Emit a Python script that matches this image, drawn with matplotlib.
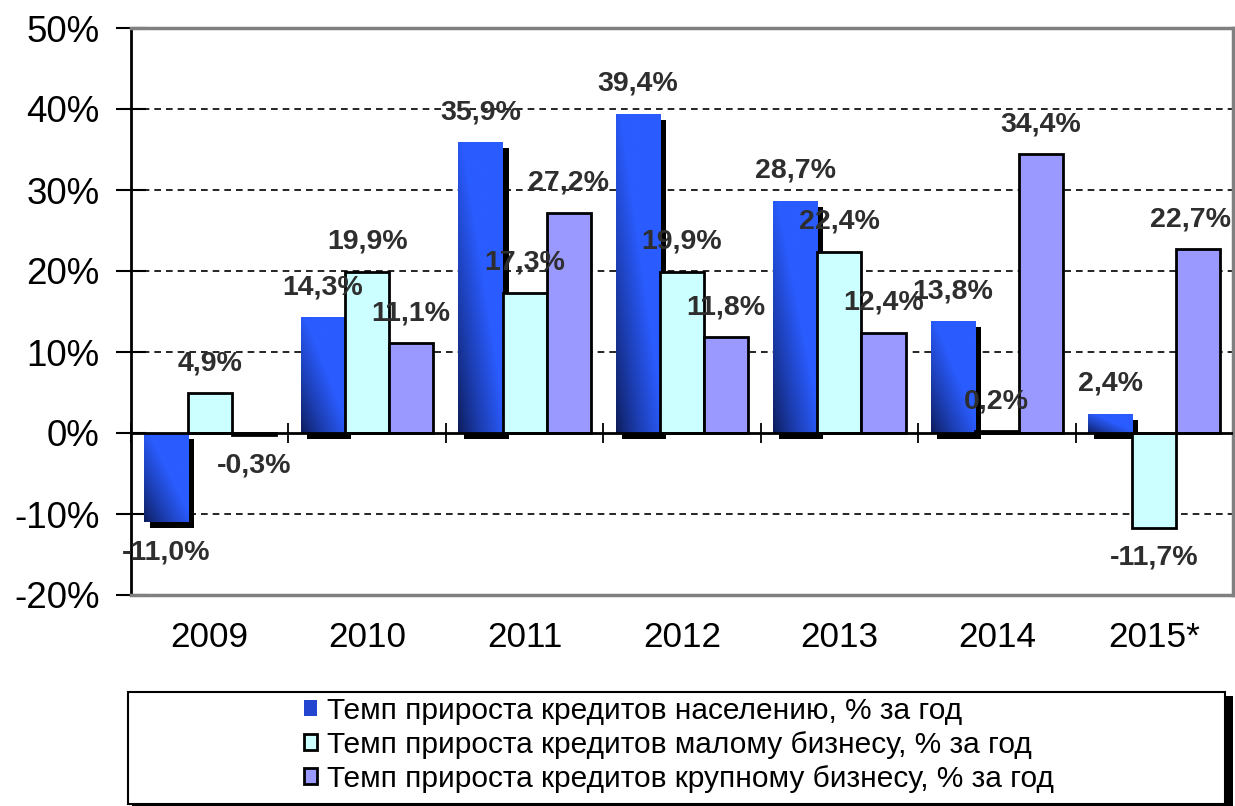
import numpy as np
import matplotlib
matplotlib.use("Agg")
import matplotlib.pyplot as plt
from matplotlib.patches import Rectangle
from matplotlib.colors import to_rgb

plt.rcParams['font.family'] = ['Liberation Sans', 'DejaVu Sans']

categories = ['2009', '2010', '2011', '2012', '2013', '2014', '2015*']
households = [-11.0, 14.3, 35.9, 39.4, 28.7, 13.8, 2.4]
small_business = [4.9, 19.9, 17.3, 19.9, 22.4, 0.2, -11.7]
large_business = [-0.3, 11.1, 27.2, 11.8, 12.4, 34.4, 22.7]
series_names = ['Темп прироста кредитов населению, % за год',
                'Темп прироста кредитов малому бизнесу, % за год',
                'Темп прироста кредитов крупному бизнесу, % за год']
yticks = [-20, -10, 0, 10, 20, 30, 40, 50]

W, H = 1235, 806
fig = plt.figure(figsize=(W / 100, H / 100), dpi=100)
ax = fig.add_axes([131 / W, 1 - 595 / H, (1233 - 131) / W, (595 - 28) / H])
ax.set_xlim(-0.5, len(categories) - 0.5)
ax.set_ylim(-20, 50)

x = np.arange(len(categories))
bw = 0.28
dark = np.array(to_rgb('#0c1a55'))
bright = np.array(to_rgb('#2a5cff'))

px_x = (len(categories)) / (1233 - 131)
px_y = 70 / (595 - 28)
sdx, sdy = 6 * px_x, 6 * px_y

n = 64
u, v = np.meshgrid(np.linspace(0, 1, n), np.linspace(0, 1, n))
t = np.clip((u * 0.9 + v * 0.9) ** 0.8, 0, 1)
grad = dark[None, None, :] + t[..., None] * (bright - dark)[None, None, :]

bars_h = ax.bar(x - bw, households, bw, color='none', edgecolor='none', zorder=3)
for b, val in zip(bars_h, households):
    x0 = b.get_x()
    y0 = min(0, val)
    h = abs(val)
    sh = Rectangle((x0 + sdx, y0 - sdy), bw, h, facecolor='black', edgecolor='none', zorder=2)
    ax.add_patch(sh)
    clip = Rectangle((x0, y0), bw, h, transform=ax.transData, facecolor='none', edgecolor='none')
    ax.add_patch(clip)
    im = ax.imshow(grad, extent=(x0, x0 + bw, y0, y0 + h), origin='lower', aspect='auto', zorder=3,
                   interpolation='bilinear')
    im.set_clip_path(clip)

bars_s = ax.bar(x, small_business, bw, color='#ccffff', edgecolor='black', linewidth=2, zorder=4)
bars_l = ax.bar(x + bw, large_business, bw, color='#9999ff', edgecolor='black', linewidth=2, zorder=4)
ax.set_xlim(-0.5, len(categories) - 0.5)
ax.set_ylim(-20, 50)

def fmt(vv):
    return f"{vv:.1f}%".replace('.', ',')

labels = []
for offs, vals in [(-bw, households), (0, small_business), (bw, large_business)]:
    for xi, vv in zip(x, vals):
        dy = 30 if vv >= 0 else -30
        a = ax.annotate(fmt(vv), (xi + offs, vv), xytext=(0, dy), textcoords='offset pixels',
                        ha='center', va='center', fontsize=20.5, fontweight='bold', color='#2e2e2e', zorder=6)
        labels.append(a)

for yv in [-10, 10, 20, 30, 40]:
    ax.axhline(yv, color='black', lw=1.2, ls=(0, (4, 3)), zorder=1)
ax.axhline(0, color='black', lw=2, zorder=5)

ax.set_yticks(yticks)
ax.set_yticklabels([f"{t_}%" for t_ in yticks], fontsize=26.5)
ax.tick_params(axis='y', direction='inout', length=21, width=1.5, pad=12)
ax.set_xticks(x)
ax.set_xticklabels(categories, fontsize=25.3)
ax.tick_params(axis='x', length=0, pad=19)

for side in ['top', 'right', 'bottom']:
    ax.spines[side].set_color('#808080')
    ax.spines[side].set_linewidth(2.5)
ax.spines['left'].set_color('black')
ax.spines['left'].set_linewidth(2)

sec = ax.secondary_xaxis(20 / 70)
sec.set_xticks(np.arange(len(categories) + 1) - 0.5)
sec.set_xticklabels([])
sec.tick_params(direction='inout', length=15, width=1.3)
sec.spines['bottom'].set_visible(False)

fig.patches.append(Rectangle((132 / W, 1 - 808 / H), (1229 - 128) / W, (804 - 692) / H,
                             transform=fig.transFigure, facecolor='black', edgecolor='none', zorder=0))
fig.patches.append(Rectangle((128 / W, 1 - 804 / H), (1225 - 128) / W, (804 - 692) / H,
                             transform=fig.transFigure, facecolor='white', edgecolor='black', lw=1.5, zorder=0.5))
handles = [Rectangle((0, 0), 1, 1, facecolor='#2345d0', edgecolor='none'),
           Rectangle((0, 0), 1, 1, facecolor='#ccffff', edgecolor='black', lw=2),
           Rectangle((0, 0), 1, 1, facecolor='#9999ff', edgecolor='black', lw=2)]
leg = fig.legend(handles, series_names, loc='center', bbox_to_anchor=(679 / W, 1 - 745 / H),
                 frameon=False, fontsize=21.5, handlelength=0.44, handleheight=0.44,
                 handletextpad=0.33, labelspacing=0.2, borderpad=0)

# keep value labels inside the figure
fig.canvas.draw()
renderer = fig.canvas.get_renderer()
for a in labels:
    bb = a.get_window_extent(renderer)
    excess = bb.x1 - (W - 4)
    if excess > 0:
        ox, oy = a.xyann
        a.xyann = (ox - excess, oy)

fig.savefig('out.png', dpi=100)
